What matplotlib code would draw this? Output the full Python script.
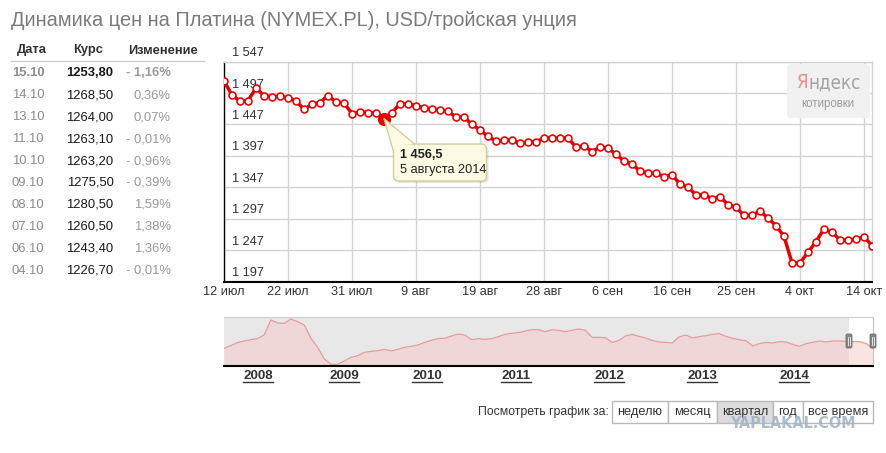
import matplotlib
matplotlib.use('Agg')
import matplotlib.pyplot as plt
import matplotlib.transforms as mtransforms
from matplotlib.patches import FancyBboxPatch, Rectangle, Polygon
from matplotlib.lines import Line2D
import numpy as np

W, H = 887, 453
DPI = 100
plt.rcParams['font.family'] = ['Liberation Sans', 'DejaVu Sans']

# ---------------- data ----------------
title = "Динамика цен на Платина (NYMEX.PL), USD/тройская унция"

table_header = ["Дата", "Курс", "Изменение"]
table_dates = ["15.10", "14.10", "13.10", "11.10", "10.10", "09.10", "08.10", "07.10", "06.10", "04.10"]
table_rates = ["1253,80", "1268,50", "1264,00", "1263,10", "1263,20", "1275,50", "1280,50", "1260,50", "1243,40", "1226,70"]
table_changes = ["- 1,16%", "0,36%", "0,07%", "- 0,01%", "- 0,96%", "- 0,39%", "1,59%", "1,38%", "1,36%", "- 0,01%"]

# daily prices 12 Jul 2014 .. 15 Oct 2014 (trading days, Sundays skipped)
prices = [
    1516, 1494, 1484, 1485, 1505, 1493, 1491, 1492, 1489, 1485,
    1471, 1479.5, 1482, 1493, 1483, 1481, 1464.5, 1467, 1466, 1465,
    1456.5, 1466, 1480, 1480, 1477, 1473.5, 1472, 1470, 1468, 1459,
    1459, 1447, 1438.5, 1428, 1420.5, 1422, 1422, 1417, 1419, 1419,
    1425.5, 1425.5, 1425.5, 1425.5, 1411, 1413, 1404, 1411, 1409.5, 1399.5,
    1389, 1384, 1373, 1369.5, 1369.5, 1364, 1367, 1352, 1347, 1335,
    1335, 1329, 1332, 1319.5, 1315, 1302.5, 1302.5, 1309, 1298, 1286,
    1269, 1226.8, 1226.7, 1243.4, 1260.5, 1280.5, 1275.5, 1263.2, 1263.1, 1264.0,
    1268.5, 1253.8,
]
x_labels = ["12 июл", "22 июл", "31 июл", "9 авг", "19 авг", "28 авг",
            "6 сен", "16 сен", "25 сен", "4 окт", "14 окт"]
label_step = 8
y_ticks = [1197, 1247, 1297, 1347, 1397, 1447, 1497, 1547]

highlight_index = 20
highlight_value = "1 456,5"
highlight_date = "5 августа 2014"

# navigator (whole history, evenly sampled)
nav_values = [
    1288, 1380, 1484, 1541, 1588, 1622, 1749, 2268, 2164, 2152,
    2302, 2210, 2095, 1634, 1322, 919, 734, 734, 850, 977,
    1034, 1150, 1184, 1207, 1253, 1196, 1253, 1322, 1357, 1403,
    1495, 1564, 1622, 1634, 1714, 1783, 1749, 1588, 1622, 1599,
    1622, 1691, 1772, 1807, 1830, 1887, 1933, 1933, 1864, 1933,
    1910, 1864, 1910, 1957, 1910, 1668, 1668, 1657, 1495, 1553,
    1714, 1772, 1703, 1645, 1564, 1507, 1495, 1472, 1680, 1749,
    1645, 1691, 1726, 1772, 1795, 1703, 1634, 1588, 1553, 1368,
    1449, 1495, 1472, 1518, 1507, 1426, 1357, 1449, 1495, 1541,
    1507, 1541, 1541, 1530, 1518, 1518, 1449, 1280,
]
nav_years = ["2008", "2009", "2010", "2011", "2012", "2013", "2014"]
nav_year_frac = [0.0524, 0.1849, 0.3128, 0.4499, 0.5932, 0.7365, 0.8783]
nav_sel_frac = 0.963

period_label = "Посмотреть график за:"
period_buttons = ["неделю", "месяц", "квартал", "год", "все время"]
period_active = "квартал"

logo_first, logo_rest, logo_sub = "Я", "ндекс", "котировки"
watermark = "YAPLAKAL.COM"

# ---------------- helpers ----------------
def fx(px):
    return px / W

def fy(py):
    return 1 - py / H

IDT = mtransforms.IdentityTransform()

def disp(px, py):
    return px, H - py

fig = plt.figure(figsize=(W / DPI, H / DPI), dpi=DPI)
fig.patch.set_facecolor('white')

RED = '#e80000'
DARK = '#333333'

# title
fig.text(fx(11.5), fy(20), title, fontsize=14.4, color='#7b7b7b', va='center', ha='left')

# ---------------- table ----------------
hdr_x = [32, 88, 163]
for s, x in zip(table_header, hdr_x):
    fig.text(fx(x), fy(50.5), s, fontsize=9.3, fontweight='bold', color=DARK, ha='center', va='center')
fig.add_artist(Line2D([fx(11), fx(204)], [fy(61), fy(61)], color='#cfcfcf', lw=1))
row0, row_step = 73.3, 21.93
for i, (d, r, c) in enumerate(zip(table_dates, table_rates, table_changes)):
    yy = fy(row0 + i * row_step)
    fw = 'bold' if i == 0 else 'normal'
    fig.text(fx(12), yy, d, fontsize=9.4, color='#8c8c8c', ha='left', va='center', fontweight=fw)
    fig.text(fx(113.5), yy, r, fontsize=9.4, color='#1a1a1a', ha='right', va='center', fontweight=fw)
    fig.text(fx(171), yy, c, fontsize=9.4, color='#9a9a9a', ha='right', va='center', fontweight=fw)

# ---------------- main chart ----------------
ax = fig.add_axes([fx(224), fy(281.5), (872 - 224) / W, (281.5 - 61.7) / H])
xs = np.arange(len(prices))
ax.set_xlim(0, len(prices) - 1)
ax.set_ylim(y_ticks[0], y_ticks[-1])
ax.set_yticks(y_ticks)
xt = list(range(0, len(prices) - 1, label_step))
ax.set_xticks(xt)
ax.set_xticklabels(x_labels, fontsize=9.2, color=DARK)
ax.set_yticklabels([])
ax.tick_params(axis='both', length=0)
ax.tick_params(axis='x', pad=3.5)
ax.grid(True, color='#d2d2d2', lw=1, zorder=0)
ax.set_axisbelow(True)
for s in ['top', 'right']:
    ax.spines[s].set_color('#d2d2d2')
    ax.spines[s].set_linewidth(1)
ax.spines['left'].set_color('black')
ax.spines['left'].set_linewidth(1)
ax.spines['bottom'].set_color('black')
ax.spines['bottom'].set_linewidth(1.5)

ylab_tr = mtransforms.offset_copy(ax.get_yaxis_transform(), fig=fig, x=8, y=5.5, units='dots')
for v in y_ticks:
    lab = f"{v:,}".replace(",", " ")
    ax.text(0, v, lab, transform=ylab_tr, fontsize=9.2, color=DARK, ha='left', va='baseline', clip_on=False)

ax.plot(xs, prices, color=RED, lw=2.5, marker='o', ms=5.0, mfc='white', mec=RED, mew=1.15,
        zorder=3, solid_joinstyle='round')
ax.plot([highlight_index], [prices[highlight_index]], 'o', color=RED, ms=8.5, zorder=4)

# tooltip
fig.canvas.draw()
px, py = ax.transData.transform((highlight_index, prices[highlight_index]))
bw, bh = 93, 37
bx, btop = px + 9.5, py - 25.5
by = btop - bh
TIP_FC, TIP_EC = '#fdfbe3', '#d5cc9e'
fig.add_artist(FancyBboxPatch((bx + 2, by - 2), bw, bh, boxstyle='round,pad=0,rounding_size=5',
                              transform=IDT, fc='#000000', ec='none', alpha=0.10, zorder=9))
fig.add_artist(FancyBboxPatch((bx, by), bw, bh, boxstyle='round,pad=0,rounding_size=5',
                              transform=IDT, fc=TIP_FC, ec=TIP_EC, lw=1, zorder=10))
Lp = (bx, py - 33)
Tp = (bx + 21, btop)
fig.add_artist(Polygon([(px, py), Lp, (bx + 1.5, btop - 1.5), Tp], closed=True, transform=IDT,
                       fc=TIP_FC, ec='none', zorder=11))
fig.add_artist(Line2D([Lp[0], px, Tp[0]], [Lp[1], py, Tp[1]], transform=IDT, color=TIP_EC, lw=1, zorder=12))
fig.text(bx + 7, btop - 10.5, highlight_value, transform=IDT, fontsize=9.2, fontweight='bold',
         color='#222222', ha='left', va='center', zorder=13)
fig.text(bx + 7, btop - 26, highlight_date, transform=IDT, fontsize=9.2,
         color='#222222', ha='left', va='center', zorder=13)

# yandex logo
lx0, ly0 = disp(787, 118)
fig.add_artist(FancyBboxPatch((lx0, ly0), 83, 54, boxstyle='round,pad=0,rounding_size=4',
                              transform=IDT, fc='#f1f1f1', ec='none', zorder=5))
narrow = ['DejaVu Sans']
t1 = fig.text(fx(797), fy(83), logo_first, fontsize=13.5, color='#f08c8c', ha='left', va='center',
              family=narrow, fontstretch='condensed', zorder=6)
fig.canvas.draw()
bb = t1.get_window_extent()
t2 = fig.text(bb.x1 / W, fy(83), logo_rest, fontsize=13.5, color='#a3a3a3', ha='left', va='center',
              family=narrow, fontstretch='condensed', zorder=6)
fig.text(fx(828), fy(104.5), logo_sub, fontsize=8.3, color='#9c9c9c', ha='center', va='center', zorder=6)

# ---------------- navigator ----------------
axn = fig.add_axes([fx(224), fy(366), 649 / W, 49.3 / H])
n = len(nav_values)
xn = np.arange(n)
axn.set_xlim(0, n - 1)
axn.set_ylim(676, 2382)
sel = nav_sel_frac * (n - 1)
axn.axvspan(0, sel, color='#e8e8e8', lw=0, zorder=0)
axn.fill_between(xn, nav_values, 676, color='#f6c8c8', alpha=0.5, lw=0, zorder=1)
axn.plot(xn, nav_values, color='#e79b9b', lw=0.9, zorder=2)
axn.set_xticks([])
axn.set_yticks([])
axn.spines['left'].set_visible(False)
axn.spines['top'].set_color('#cfcfcf')
axn.spines['right'].set_color('#c4c4c4')
axn.spines['bottom'].set_color('black')
axn.spines['bottom'].set_linewidth(1.5)

fig.canvas.draw()
for hxv in [sel, n - 1]:
    hx, hy = axn.transData.transform((hxv, 0))
    _, hyc = disp(0, 341)
    fig.add_artist(FancyBboxPatch((hx - 3, hyc - 7), 6, 14, boxstyle='round,pad=0,rounding_size=1.5',
                                  transform=IDT, fc='#858585', ec='#6f6f6f', lw=0.6, zorder=20))
    for dx in (-0.9, 0.9):
        fig.add_artist(Line2D([hx + dx, hx + dx], [hyc - 4, hyc + 4], transform=IDT,
                              color='#e6e6e6', lw=0.7, zorder=21))

renderer = fig.canvas.get_renderer()
for yl, fr in zip(nav_years, nav_year_frac):
    t = fig.text(fx(224 + fr * 649), fy(376), yl, fontsize=9.6, fontweight='bold', color=DARK,
                 ha='center', va='center')
    b = t.get_window_extent(renderer)
    _, uy = disp(0, 381.5)
    fig.add_artist(Line2D([b.x0, b.x1], [uy, uy], transform=IDT, color=DARK, lw=1))

# ---------------- period buttons ----------------
fig.text(fx(609), fy(412), period_label, fontsize=8.8, color=DARK, ha='right', va='center')
edges = [612, 668, 717, 773, 803, 873]
for i, lab in enumerate(period_buttons):
    x0, x1 = edges[i], edges[i + 1]
    rx, ry = disp(x0, 423)
    fc = '#dcdcdc' if lab == period_active else 'white'
    fig.add_artist(Rectangle((rx, ry), x1 - x0, 22, transform=IDT, fc=fc, ec='#b9b9b9', lw=1, zorder=5))
    fig.text(fx((x0 + x1) / 2), fy(412), lab, fontsize=9.2, color=DARK, ha='center', va='center', zorder=6)

fig.text(fx(793), fy(424), watermark, fontsize=11.5, fontweight='bold', color='#a3b5c8',
         family=['DejaVu Sans'], fontstretch='condensed', ha='center', va='center', zorder=30, alpha=0.9)

fig.savefig('out.png', dpi=DPI, facecolor='white')
